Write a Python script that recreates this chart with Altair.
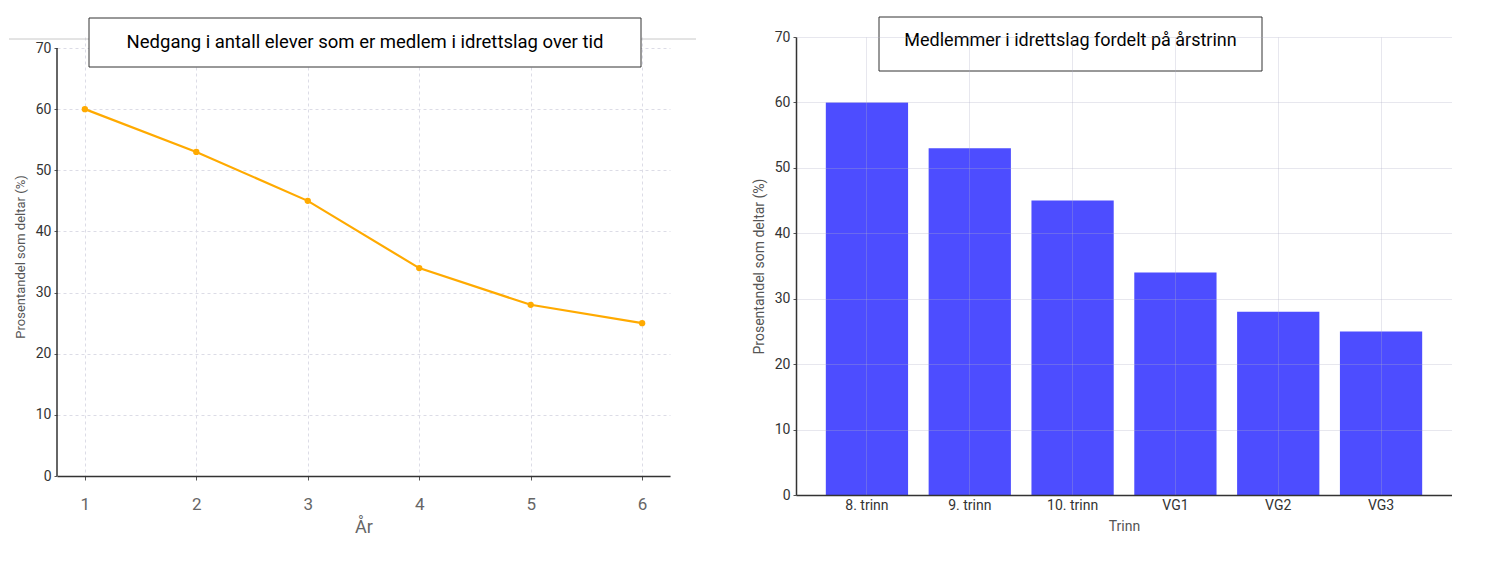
import altair as alt
import pandas as pd

YEARS = [1, 2, 3, 4, 5, 6]
SHARE_BY_YEAR = [60, 53, 45, 34, 28, 25]

GRADES = ["8. trinn", "9. trinn", "10. trinn", "VG1", "VG2", "VG3"]
SHARE_BY_GRADE = [60, 53, 45, 34, 28, 25]

Y_TICKS = [0, 10, 20, 30, 40, 50, 60, 70]

LEFT_TITLE = "Nedgang i antall elever som er medlem i idrettslag over tid"
RIGHT_TITLE = "Medlemmer i idrettslag fordelt på årstrinn"
Y_TITLE = "Prosentandel som deltar (%)"

FONT = "Roboto"

line_df = pd.DataFrame({"year": YEARS, "share": SHARE_BY_YEAR})
bar_df = pd.DataFrame({"grade": GRADES, "share": SHARE_BY_GRADE})

# left plot is 11px taller than its 0-70 range so both panels share a top edge
LW, LH = 613, 439
LTOP = 70 * LH / 428
RW, RH = 656, 458


def title_box(x1, x2, y1, y2, text, ty, size):
    box = (
        alt.Chart(pd.DataFrame({"t": [text]}))
        .mark_rect(fill="white", stroke="#333333", strokeWidth=1)
        .encode(x=alt.value(x1), x2=alt.value(x2), y=alt.value(y1), y2=alt.value(y2))
    )
    label = (
        alt.Chart(pd.DataFrame({"t": [text]}))
        .mark_text(font=FONT, fontSize=size, color="black", baseline="middle", align="center")
        .encode(x=alt.value((x1 + x2) / 2), y=alt.value(ty), text="t:N")
    )
    return [box, label]


# left panel: line chart
left_base = alt.Chart(line_df).encode(
    x=alt.X(
        "year:Q",
        scale=alt.Scale(domain=[0.75, 6.25], nice=False, zero=False),
        axis=alt.Axis(
            values=YEARS,
            title="År",
            labelFontSize=17,
            labelColor="#666666",
            labelPadding=16,
            titleFontSize=18,
            titleColor="#666666",
            titleFontWeight="normal",
            titlePadding=6,
            gridDash=[3, 3],
            gridColor="#dcdce6",
            tickSize=4,
            tickColor="#555555",
            domainColor="#333333",
            domainWidth=1.5,
        ),
    ),
    y=alt.Y(
        "share:Q",
        scale=alt.Scale(domain=[0, LTOP], nice=False),
        axis=alt.Axis(
            values=Y_TICKS,
            title=Y_TITLE,
            labelFontSize=14,
            labelColor="#333333",
            labelPadding=3,
            titleFontSize=13,
            titleColor="#555555",
            titleFontWeight="normal",
            titlePadding=8,
            gridDash=[3, 3],
            gridColor="#dcdce6",
            tickSize=3,
            tickColor="#555555",
            domain=False,
        ),
    ),
)

left_line = left_base.mark_line(color="#FFAA00", strokeWidth=2.2)
left_pts = left_base.mark_circle(color="#FFAA00", size=40, opacity=1)

y_spine = (
    alt.Chart(pd.DataFrame({"lo": [0], "hi": [70]}))
    .mark_rule(color="#333333", strokeWidth=1.5)
    .encode(x=alt.value(0), y="lo:Q", y2="hi:Q")
)

grey_rule = (
    alt.Chart(pd.DataFrame({"t": [0]}))
    .mark_rule(color="#c8c8c8", strokeWidth=1)
    .encode(x=alt.value(-48), x2=alt.value(LW + 26), y=alt.value(2))
)

left = alt.layer(
    left_line, left_pts, y_spine, grey_rule,
    *title_box(32, 584, -19, 30, LEFT_TITLE, 5, 18.5)
).properties(width=LW, height=LH)

# right panel: bar chart
right_base = alt.Chart(bar_df).mark_bar(color="#4d4dff").encode(
    x=alt.X(
        "grade:N",
        sort=GRADES,
        scale=alt.Scale(paddingInner=0.2, paddingOuter=0.29),
        axis=alt.Axis(
            title="Trinn",
            labelAngle=0,
            labelFontSize=14,
            labelColor="#333333",
            labelPadding=3,
            titleFontSize=14,
            titleColor="#555555",
            titleFontWeight="normal",
            titlePadding=7,
            grid=True,
            gridColor="#b0b0c8",
            gridOpacity=0.3,
            bandPosition=0.5,
            tickSize=0,
            domainColor="#333333",
            domainWidth=1.5,
            zindex=1,
        ),
    ),
    y=alt.Y(
        "share:Q",
        scale=alt.Scale(domain=[0, 70], nice=False),
        axis=alt.Axis(
            values=Y_TICKS,
            title=Y_TITLE,
            labelFontSize=14,
            labelColor="#333333",
            labelPadding=3,
            titleFontSize=14,
            titleColor="#555555",
            titleFontWeight="normal",
            titlePadding=8,
            gridColor="#b0b0c8",
            gridOpacity=0.3,
            tickSize=3,
            tickColor="#555555",
            domainColor="#333333",
            domainWidth=1.5,
            zindex=1,
        ),
    ),
)

right = alt.layer(
    right_base, *title_box(83, 466, -20, 34, RIGHT_TITLE, 4, 18)
).properties(width=RW, height=RH)

chart = (
    alt.hconcat(left, right, spacing=55)
    .properties(padding={"left": 0, "top": 8, "right": 0, "bottom": 0})
    .configure_view(stroke=None)
    .configure_axis(labelFont=FONT, titleFont=FONT)
)

chart.save("out.html", embed_options={"renderer": "svg", "actions": False})
